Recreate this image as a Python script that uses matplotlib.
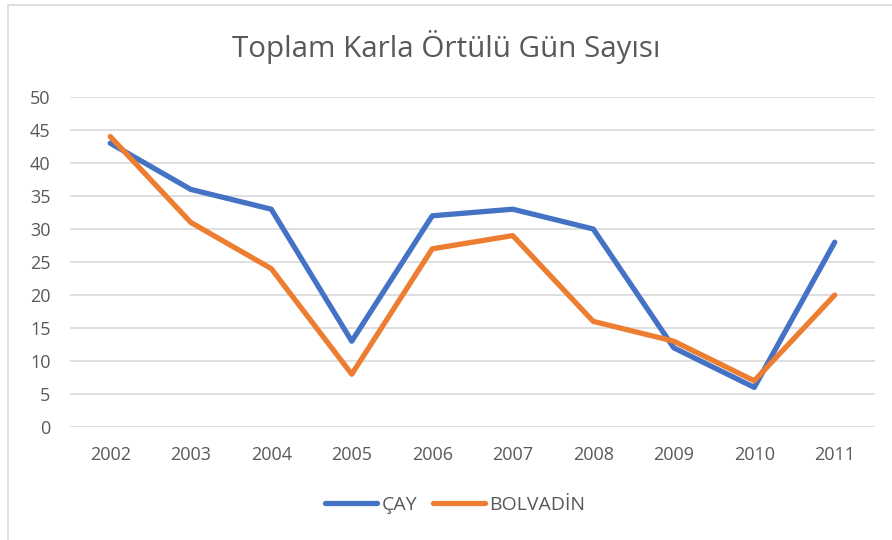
import matplotlib.pyplot as plt
from matplotlib.patches import Rectangle

plt.rcParams['font.family'] = ['Open Sans', 'DejaVu Sans']

years = ['2002', '2003', '2004', '2005', '2006', '2007', '2008', '2009', '2010', '2011']
cay = [43, 36, 33, 13, 32, 33, 30, 12, 6, 28]
bolvadin = [44, 31, 24, 8, 27, 29, 16, 13, 7, 20]

text_color = '#595959'
grid_color = '#d9d9d9'

fig = plt.figure(figsize=(8.92, 5.40), dpi=100)
ax = fig.add_axes([70 / 892, 1 - 427 / 540, 805 / 892, 330 / 540])

x = range(len(years))
ax.plot(x, cay, color='#4472C4', linewidth=3.8, label='ÇAY', solid_capstyle='round')
ax.plot(x, bolvadin, color='#ED7D31', linewidth=3.8, label='BOLVADİN', solid_capstyle='round')

ax.set_xlim(-0.5, len(years) - 0.5)
ax.set_ylim(0, 50)
ax.set_yticks(range(0, 51, 5))
ax.set_xticks(list(x))
ax.set_xticklabels(years)
ax.yaxis.grid(True, color=grid_color, linewidth=1.2)
ax.set_axisbelow(True)
for s in ax.spines.values():
    s.set_visible(False)
ax.tick_params(length=0, labelsize=13, colors=text_color)
ax.tick_params(axis='x', pad=14)
ax.tick_params(axis='y', pad=14)

fig.text(0.5, 1 - 47 / 540, 'Toplam Karla Örtülü Gün Sayısı', ha='center', va='center',
         fontsize=21.3, color=text_color)

fig.legend(loc='center', bbox_to_anchor=(0.51, 1 - 505 / 540), ncol=2, frameon=False,
           fontsize=14, labelcolor=text_color, handlelength=2.7, columnspacing=0.8,
           handletextpad=0.2)

# chart border
fig.patches.append(Rectangle((8 / 892, -0.01), 1.0, 1 - 5 / 540 + 0.01, transform=fig.transFigure,
                             fill=False, edgecolor=grid_color, linewidth=1.2))

fig.savefig('out.png', dpi=100)
